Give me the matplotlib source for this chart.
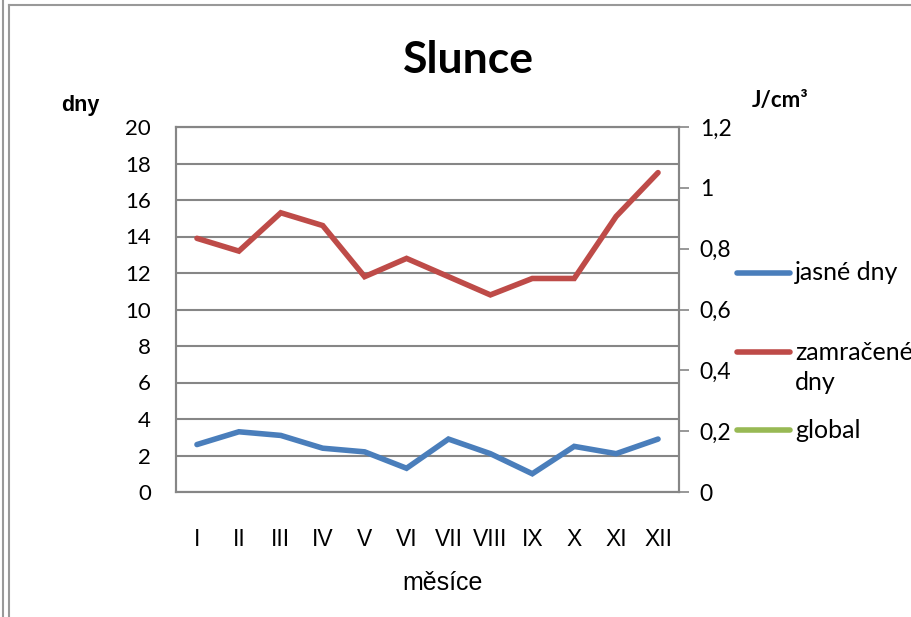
import numpy as np
import matplotlib
matplotlib.use("Agg")
import matplotlib.pyplot as plt
from matplotlib.lines import Line2D

# data
months = ["I", "II", "III", "IV", "V", "VI", "VII", "VIII", "IX", "X", "XI", "XII"]
jasne_dny = [2.6, 3.3, 3.1, 2.4, 2.2, 1.3, 2.9, 2.1, 1.0, 2.5, 2.1, 2.9]
zamracene_dny = [13.9, 13.2, 15.3, 14.6, 11.8, 12.8, 11.8, 10.8, 11.7, 11.7, 15.1, 17.5]
global_zareni = [np.nan] * 12  # no values in the source

left_ticks = list(range(0, 21, 2))
right_ticks = [0, 0.2, 0.4, 0.6, 0.8, 1.0, 1.2]
right_labels = ["0", "0,2", "0,4", "0,6", "0,8", "1", "1,2"]

BLUE = "#4a7ebb"
RED = "#be4b48"
GREEN = "#98b954"
GRID = "#868686"
FONT = "Lato"

W, H = 912, 617
fig = plt.figure(figsize=(W / 100, H / 100), dpi=100)

# plot area in pixels
x0, x1, y0, y1 = 176, 679, 127, 492
ax = fig.add_axes([x0 / W, 1 - y1 / H, (x1 - x0) / W, (y1 - y0) / H])
ax2 = ax.twinx()

x = np.arange(len(months))
ax.plot(x, jasne_dny, color=BLUE, lw=4, solid_capstyle="round", solid_joinstyle="miter")
ax.plot(x, zamracene_dny, color=RED, lw=4, solid_capstyle="round", solid_joinstyle="miter")
ax2.plot(x, global_zareni, color=GREEN, lw=4)

ax.set_xlim(-0.5, len(months) - 0.5)
ax.set_ylim(0, 20)
ax2.set_ylim(0, 1.2)

ax.set_yticks(left_ticks)
ax.set_yticklabels([str(t) for t in left_ticks], fontsize=16, family=FONT)
ax.tick_params(axis="y", length=0, pad=18)
ax.set_xticks(x)
ax.set_xticklabels(months, fontsize=16.5, family="Liberation Sans")
ax.tick_params(axis="x", length=0, pad=26)
ax.yaxis.grid(True, color=GRID, lw=1.5)
ax.set_axisbelow(True)

ax2.set_yticks(right_ticks)
ax2.set_yticklabels(right_labels, fontsize=16.5, family=FONT)
ax2.tick_params(axis="y", length=7, width=1.2, color=GRID, pad=8)

for a in (ax, ax2):
    for s in a.spines.values():
        s.set_color(GRID)
        s.set_linewidth(1.5)

# titles
fig.text(468 / W, 1 - 60 / H, "Slunce", fontsize=32, fontweight="bold",
         family=FONT, ha="center", va="center")
fig.text(80 / W, 1 - 106 / H, "dny", fontsize=15.5, fontweight="bold",
         family="Liberation Sans", ha="center", va="center")
fig.text(780 / W, 1 - 100 / H, "J/cm³", fontsize=16, fontweight="bold",
         family=FONT, ha="center", va="center")
fig.text(443 / W, 1 - 583 / H, "měsíce", fontsize=18,
         family="Liberation Sans", ha="center", va="center")

# legend, drawn by hand so the long entry wraps and runs off the edge
legend_items = [("jasné dny", BLUE, 273), ("zamračené dny", RED, 352), ("global", GREEN, 430)]
for label, col, yy in legend_items:
    fig.add_artist(Line2D([737 / W, 790 / W], [1 - yy / H, 1 - yy / H],
                          color=col, lw=4, solid_capstyle="round"))
    lines = [label] if label != "zamračené dny" else label.split(" ")
    for k, part in enumerate(lines):
        fig.text(795 / W, 1 - (yy + 31 * k) / H, part, fontsize=18, family=FONT,
                 ha="left", va="center")

# outer frame lines of the source sheet
fig.add_artist(Line2D([3 / W, 3 / W], [0, 1], color="#999999", lw=1.5))
fig.add_artist(Line2D([9 / W, 9 / W], [0, 1 - 5 / H], color="#999999", lw=1.5))
fig.add_artist(Line2D([9 / W, 1], [1 - 5 / H, 1 - 5 / H], color="#999999", lw=1.5))

fig.savefig("out.png", dpi=100)
